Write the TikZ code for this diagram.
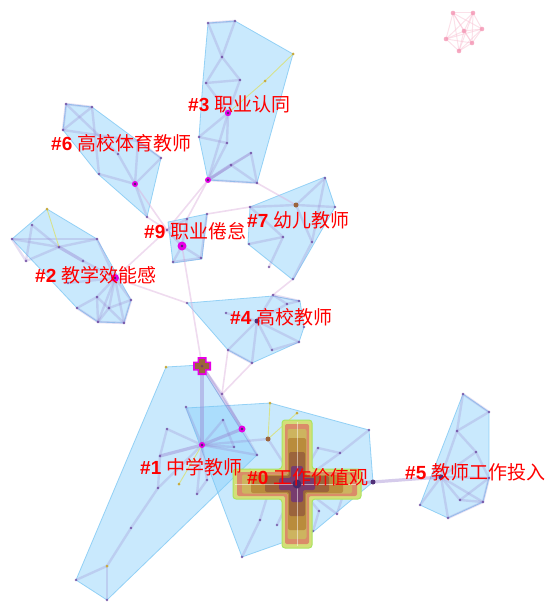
\documentclass[tikz,border=0pt]{standalone}
\usepackage{fontspec}
\setmainfont{Liberation Sans}
\newfontfamily\cjk{Noto Sans CJK SC}
\definecolor{hullfill}{RGB}{135,206,250}
\definecolor{hullline}{RGB}{115,195,242}
\definecolor{edgecol}{RGB}{150,125,205}
\definecolor{linkcol}{RGB}{220,175,220}
\definecolor{dotcol}{RGB}{100,60,150}
\definecolor{ydot}{RGB}{200,170,60}
\definecolor{yline}{RGB}{215,225,140}
\definecolor{mag}{RGB}{230,0,230}
\definecolor{pinkdot}{RGB}{244,150,180}
\definecolor{pinkline}{RGB}{248,195,212}
\definecolor{crA}{RGB}{212,222,120}
\definecolor{crB}{RGB}{218,140,105}
\definecolor{crC}{RGB}{205,180,95}
\definecolor{crD}{RGB}{185,140,60}
\definecolor{crE}{RGB}{155,100,60}
\definecolor{crF}{RGB}{120,60,110}
\newcommand\crossdraw[5]{\path[#5] (#1-#4,#2-#3) -- (#1+#4,#2-#3) -- (#1+#4,#2-#4) -- (#1+#3,#2-#4) -- (#1+#3,#2+#4) -- (#1+#4,#2+#4) -- (#1+#4,#2+#3) -- (#1-#4,#2+#3) -- (#1-#4,#2+#4) -- (#1-#3,#2+#4) -- (#1-#3,#2-#4) -- (#1-#4,#2-#4) -- cycle;}
\tikzset{
  hull/.style={fill=hullfill, fill opacity=0.45, draw=hullline, draw opacity=0.7, line width=0.8pt, line join=round},
  edge/.style={draw=edgecol, draw opacity=0.25, line width=2.4pt, line cap=round},
  thickedge/.style={draw=edgecol, draw opacity=0.4, line width=3.2pt, line cap=round},
  link/.style={draw=linkcol, draw opacity=0.45, line width=1.6pt},
  yedge/.style={draw=yline, line width=0.9pt},
  pedge/.style={draw=pinkline, draw opacity=0.5, line width=1pt},
  lab/.style={text=red, anchor=west, inner sep=0pt, font=\fontsize{19}{19}\selectfont}
}
\begin{document}
\begin{tikzpicture}[x=1pt,y=-1pt]
\useasboundingbox (0,0) rectangle (547,602);
% coordinates
\foreach \n/\x/\y in {
 a3a/208/23, a3b/235/21, a3c/222/57, a3d/206/83, a3e/240/80, a3f/228/113, a3g/199/137, a3h/227/143, a3i/251/153, a3j/231/165, a3k/208/180, a3l/257/183, y3a/293/54, y3b/265/81,
 a6a/66/104, a6b/92/107, a6c/63/130, a6d/138/141, a6e/118/154, a6f/161/158, a6g/99/174, a6h/135/184, a6i/147/217,
 a2a/47/209, a2b/32/225, a2c/12/239, a2d/59/247, a2e/97/239, a2f/26/261, a2g/83/261, a2h/115/278, a2i/68/283, a2j/97/297, a2k/131/300, a2l/77/308, a2m/109/308, a2n/98/322, a2o/124/323,
 a9a/167/230, a9b/187/219, a9c/207/214, a9d/182/246, a9e/173/262, a9f/201/258,
 a7a/325/178, a7b/296/205, a7c/335/207, a7d/250/207, a7f/283/237, a7g/249/244, a7h/312/242, a7i/269/267, a7j/293/279,
 a4a/187/303, a4b/273/295, a4c/299/301, a4d/287/304, a4e/226/313, a4f/257/321, a4g/228/350, a4h/252/363, a4i/272/350, a4j/299/342, a4k/304/327,
 x1/202/366, a1a/166/367, a1b/222/394, a1c/186/407, a1d/202/445, a1e/167/429, a1f/160/456, a1g/158/488, a1h/179/484, a1i/197/494, a1j/207/480, a1k/131/528, a1l/107/566, a1m/76/580, a1n/107/600, a1o/242/429, a1p/223/420, a1q/234/447, a1r/257/455, a1s/268/439,
 c0/297/484, b0a/270/403, b0b/297/413, b0d/297/450, b0e/318/448, b0f/340/453, b0g/369/430, b0h/373/482, b0i/343/495, b0j/337/514, b0k/319/511, b0l/313/531, b0m/297/520, b0n/277/525, b0o/260/520, b0p/267/497, b0q/242/557, b0r/250/470,
 a5a/463/394, a5b/489/412, a5c/457/431, a5d/476/452, a5e/441/477, a5f/489/478, a5g/460/500, a5h/483/502, a5i/448/518, a5j/420/505,
 p1/453/13, p2/473/13, p3/482/29, p4/472/43, p5/459/51, p6/446/39, p7/464/31}
 \coordinate (\n) at (\x,\y);
% hulls
\path[hull] (208,23) -- (235,21) -- (293,54) -- (257,183) -- (208,180) -- (199,137) -- (203,80) -- cycle;
\path[hull] (66,104) -- (92,107) -- (161,158) -- (147,217) -- (98,174) -- (63,130) -- cycle;
\path[hull] (47,209) -- (97,239) -- (131,300) -- (124,323) -- (98,322) -- (77,308) -- (12,239) -- cycle;
\path[hull] (168,222) -- (207,214) -- (202,259) -- (173,263) -- cycle;
\path[hull] (250,207) -- (325,177) -- (335,207) -- (293,280) -- (248,244) -- cycle;
\path[hull] (187,303) -- (273,296) -- (300,301) -- (304,327) -- (299,342) -- (252,363) -- (228,350) -- cycle;
\path[hull] (166,367) -- (200,365) -- (257,455) -- (107,600) -- (76,580) -- cycle;
\path[hull] (186,408) -- (270,403) -- (369,430) -- (373,482) -- (313,532) -- (242,557) -- cycle;
\path[hull] (463,394) -- (489,412) -- (489,478) -- (483,502) -- (448,518) -- (420,505) -- cycle;
% inter-cluster links
\foreach \a/\b in {a3k/a9a, a3k/a9b, a3l/a7b, a6h/a9a, a6i/a9a, a2h/a9a, a2h/a4a, a9d/x1, a9c/a7d, a7j/a4b, a4g/a1b, a4h/a1b}
 \draw[link] (\a) -- (\b);
% pink cluster
\foreach \a/\b in {p1/p2, p1/p3, p1/p4, p1/p5, p1/p6, p1/p7, p2/p3, p2/p4, p2/p5, p2/p6, p2/p7, p3/p4, p3/p5, p3/p6, p3/p7, p4/p5, p4/p6, p4/p7, p5/p6, p5/p7, p6/p7}
 \draw[pedge] (\a) -- (\b);
% intra-cluster edges
\foreach \a/\b in {
 a3a/a3b, a3a/a3c, a3b/a3c, a3c/a3d, a3c/a3e, a3d/a3e, a3d/a3f, a3e/a3f, a3f/a3g, a3f/a3h, a3g/a3h, a3f/a3k, a3h/a3k, a3k/a3i, a3j/a3l, a3i/a3l, a3j/a3i, a3k/a3l,
 a6a/a6b, a6a/a6c, a6b/a6c, a6a/a6e, a6e/a6h, a6b/a6g, a6g/a6h, a6h/a6f, a6h/a6i, a6d/a6h, a6c/a6d, a6d/a6f,
 a2b/a2d, a2c/a2d, a2c/a2e, a2d/a2e, a2g/a2h, a2e/a2h, a2f/a2b, a2f/a2d, a2c/a2f, a2h/a2j, a2h/a2k, a2h/a2m, a2h/a2n, a2h/a2o, a2h/a2i, a2j/a2n, a2k/a2o, a2n/a2o, a2l/a2j, a2m/a2n, a2m/a2k, a2j/a2o, a2l/a2n,
 a9a/a9b, a9b/a9d, a9d/a9e, a9d/a9f, a9e/a9f, a9c/a9f, a9a/a9d,
 a7a/a7b, a7b/a7c, a7b/a7d, a7b/a7h, a7f/a7g, a7f/a7i, a7h/a7j, a7a/a7h, a7d/a7f,
 a4f/a4g, a4f/a4h, a4f/a4i, a4f/a4j, a4f/a4b, a4f/a4e, a4b/a4c, a4b/a4d, a4d/a4c, a4g/a4h, a4i/a4j, a4f/a4d,
 x1/a1b, a1b/a1o, a1d/a1e, a1e/a1f, a1f/a1g, a1d/a1g, a1d/a1i, a1d/a1j, a1i/a1j, a1d/a1p, a1d/a1q, a1d/a1r, a1d/a1s, a1d/a1c, a1p/a1q, a1o/a1r, a1g/a1k, a1k/a1l, a1l/a1m, a1l/a1n,
 c0/b0d, c0/b0e, c0/b0f, c0/b0i, c0/b0j, c0/b0k, c0/b0m, c0/b0n, c0/b0p, c0/a1s, c0/b0r, b0f/b0g, b0o/b0q, b0k/b0l, b0e/b0f, b0i/b0j, b0o/b0p,
 a5a/a5b, a5a/a5c, a5b/a5c, a5c/a5d, a5c/a5e, a5d/a5f, a5e/a5f, a5e/a5g, a5e/a5h, a5e/a5i, a5e/a5j, a5f/a5g, a5f/a5h, a5g/a5h, a5i/a5h, a5d/a5e}
 \draw[edge] (\a) -- (\b);
\foreach \a/\b in {x1/a1d, x1/a1o, a1d/a1o, a1d/a1f, a3k/a3j, a2d/a2g, c0/b0h, b0h/a5e}
 \draw[thickedge] (\a) -- (\b);
\foreach \a/\b in {y3a/y3b, y3b/a3f, a2a/a2d, a1d/a1h, b0a/a1s, b0b/a1s}
 \draw[yedge] (\a) -- (\b);
% small dots
\foreach \n in {a3a, a3b, a3c, a3d, a3e, a3g, a3h, a3i, a3j, a3l,
 a6a, a6b, a6c, a6d, a6e, a6f, a6g, a6i,
 a2b, a2c, a2d, a2e, a2f, a2g, a2i, a2j, a2k, a2l, a2m, a2n, a2o,
 a9a, a9b, a9c, a9e, a9f,
 a7a, a7c, a7d, a7f, a7g, a7h, a7i, a7j,
 a4a, a4b, a4c, a4d, a4e, a4g, a4h, a4i, a4j, a4k,
 a1b, a1c, a1e, a1f, a1g, a1i, a1j, a1k, a1m, a1n, a1p, a1q, a1r,
 b0d, b0e, b0f, b0g, b0i, b0j, b0k, b0l, b0m, b0n, b0o, b0p, b0q, b0r,
 a5a, a5b, a5c, a5d, a5f, a5g, a5h, a5i, a5j}
 \fill[dotcol, opacity=0.7] (\n) circle (1.4);
\foreach \n in {y3a, y3b, a2a, a1a, a1h, a1l, b0a, b0b}
 \fill[ydot] (\n) circle (1.5);
\foreach \n in {p1, p2, p3, p4, p5, p6, p7}
 \fill[pinkdot, opacity=0.8] (\n) circle (2.3);
% larger nodes
\foreach \n/\r in {a3f/3.2, a3k/3, a6h/3, a2h/4, a9d/4.5, a1o/3.5, a1d/3}
 {\fill[mag] (\n) circle (\r); \fill[dotcol!70!black] (\n) circle (1.3);}
\foreach \n in {a4f, a5e, b0h}
 \fill[dotcol!80!black] (\n) circle (2.5);
\foreach \n in {a7b, a1s}
 \fill[crE] (\n) circle (2.5);
% cross of #1
\crossdraw{202}{366}{9}{4.5}{fill=mag}
\crossdraw{202}{366}{7}{2.8}{fill=crE}
\fill[crF] (x1) circle (1.5);
% cross of #0
\crossdraw{297}{484}{64}{15}{fill=crA, draw=crA!80!green, line width=1pt, rounded corners=3pt}
\crossdraw{297}{484}{60}{12}{fill=crB, rounded corners=2pt}
\crossdraw{297}{484}{55}{9.5}{fill=crC, rounded corners=2pt}
\crossdraw{297}{484}{46}{9}{fill=crD, rounded corners=2pt}
\crossdraw{297}{484}{32}{8}{fill=crE, rounded corners=2pt}
\crossdraw{297}{484}{18}{6}{fill=crF, rounded corners=2pt}
\draw[white, opacity=0.5, line width=0.4pt] (297,422) -- (297,546) (235,484) -- (359,484);
\fill[dotcol!70!black] (c0) circle (4.5);
% labels
\node[lab] (l3) at (188,104) {\textbf{\#3} {\cjk 职业认同}};
\node[lab] (l6) at (51,143) {\textbf{\#6} {\cjk 高校体育教师}};
\node[lab] (l2) at (35,275) {\textbf{\#2} {\cjk 教学效能感}};
\node[lab] (l9) at (144,231) {\textbf{\#9} {\cjk 职业倦怠}};
\node[lab] (l7) at (247,220) {\textbf{\#7} {\cjk 幼儿教师}};
\node[lab] (l4) at (230,317) {\textbf{\#4} {\cjk 高校教师}};
\node[lab] (l1) at (140,467) {\textbf{\#1} {\cjk 中学教师}};
\node[lab] (l0) at (247,477) {\textbf{\#0} {\cjk 工作价值观}};
\node[lab] (l5) at (405,472) {\textbf{\#5} {\cjk 教师工作投入}};
\end{tikzpicture}
\end{document}
